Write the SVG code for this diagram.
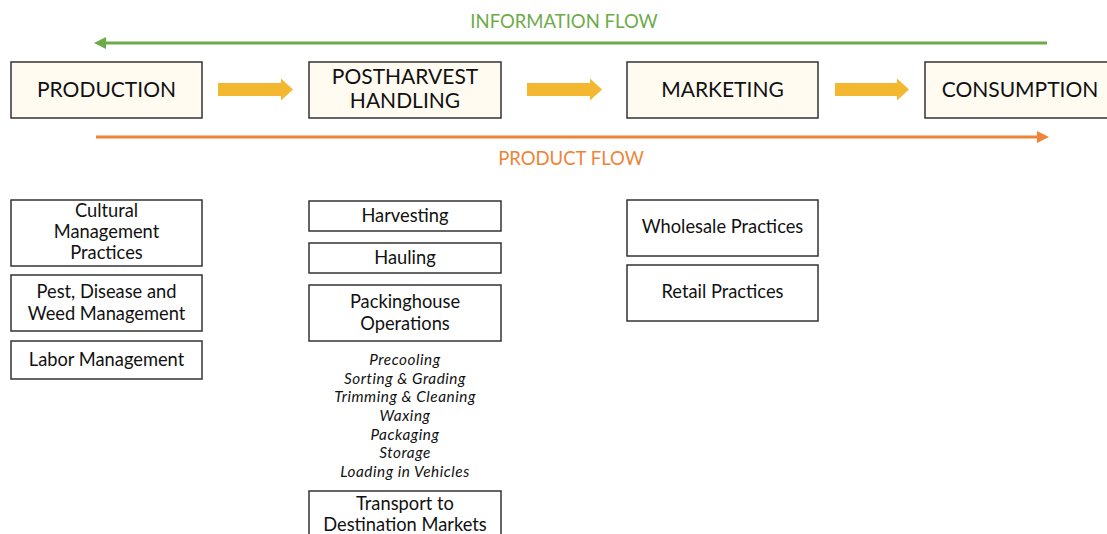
<svg xmlns="http://www.w3.org/2000/svg" width="1107" height="534" viewBox="0 0 1107 534">
<defs>
<style>
.main{fill:#FFFBF1;stroke:#333;stroke-width:1.5}
.sub{fill:#fff;stroke:#333;stroke-width:1.5}
text{font-family:Lato,"Noto Sans","Liberation Sans",sans-serif;fill:#111;text-anchor:middle}
.t1{font-size:21px}
.t2{font-size:18.3px}
.it{font-size:15.3px;font-style:italic;letter-spacing:0.55px}
.ya{fill:#F4B830}
</style>
<marker id="gh" viewBox="0 0 10 10" refX="0" refY="5" markerWidth="4" markerHeight="4" orient="auto-start-reverse" markerUnits="strokeWidth"><path d="M0,0 L10,5 L0,10 z" fill="#6DAA4A"/></marker>
<marker id="oh" viewBox="0 0 10 10" refX="0" refY="5" markerWidth="4" markerHeight="4" orient="auto" markerUnits="strokeWidth"><path d="M0,0 L10,5 L0,10 z" fill="#EE8437"/></marker>
</defs>
<g id="connectors">
<line x1="1047" y1="43" x2="106" y2="43" stroke="#6DAA4A" stroke-width="3" marker-end="url(#gh)"/>
<line x1="96" y1="137" x2="1037" y2="137" stroke="#EE8437" stroke-width="3" marker-end="url(#oh)"/>
<path class="ya" d="M218,83 L281,83 L281,78.5 L293,89.5 L281,100.5 L281,96 L218,96 z"/>
<path class="ya" d="M527,83 L590,83 L590,78.5 L602,89.5 L590,100.5 L590,96 L527,96 z"/>
<path class="ya" d="M835,83 L897,83 L897,78.5 L909,89.5 L897,100.5 L897,96 L835,96 z"/>
</g>
<text x="564" y="28" style="font-size:18.5px;fill:#6DAA4A">INFORMATION FLOW</text>
<text x="571" y="165" style="font-size:18.5px;fill:#EE8437">PRODUCT FLOW</text>
<g id="production"><rect class="main" x="11" y="62" width="191" height="56"/><text class="t1" x="106.5" y="97">PRODUCTION</text></g>
<g id="postharvest"><rect class="main" x="309" y="62" width="192" height="56"/><text class="t1" x="405" y="84">POSTHARVEST</text><text class="t1" x="405" y="108">HANDLING</text></g>
<g id="marketing"><rect class="main" x="627" y="62" width="191" height="56"/><text class="t1" x="722.5" y="97">MARKETING</text></g>
<g id="consumption"><rect class="main" x="925" y="62" width="190" height="56"/><text class="t1" x="1020" y="97">CONSUMPTION</text></g>
<g id="cultural"><rect class="sub" x="11" y="200" width="191" height="66"/><text class="t2" x="106.5" y="217">Cultural</text><text class="t2" x="106.5" y="238">Management</text><text class="t2" x="106.5" y="259">Practices</text></g>
<g id="pest"><rect class="sub" x="11" y="275" width="191" height="56"/><text class="t2" x="106.5" y="298">Pest, Disease and</text><text class="t2" x="106.5" y="320">Weed Management</text></g>
<g id="labor"><rect class="sub" x="11" y="341" width="191" height="38"/><text class="t2" x="106.5" y="366">Labor Management</text></g>
<g id="harvesting"><rect class="sub" x="309" y="201" width="192" height="30"/><text class="t2" x="405" y="222">Harvesting</text></g>
<g id="hauling"><rect class="sub" x="309" y="243" width="192" height="30"/><text class="t2" x="405" y="264">Hauling</text></g>
<g id="packinghouse"><rect class="sub" x="309" y="285" width="192" height="56"/><text class="t2" x="405" y="308">Packinghouse</text><text class="t2" x="405" y="330">Operations</text>
<text class="it" x="405" y="365">Precooling</text>
<text class="it" x="405" y="384">Sorting &amp; Grading</text>
<text class="it" x="405" y="402">Trimming &amp; Cleaning</text>
<text class="it" x="405" y="421">Waxing</text>
<text class="it" x="405" y="440">Packaging</text>
<text class="it" x="405" y="458">Storage</text>
<text class="it" x="405" y="477">Loading in Vehicles</text></g>
<g id="transport"><rect class="sub" x="309" y="491" width="192" height="56"/><text class="t2" x="405" y="510">Transport to</text><text class="t2" x="405" y="531">Destination Markets</text></g>
<g id="wholesale"><rect class="sub" x="627" y="200" width="191" height="56"/><text class="t2" x="722.5" y="233">Wholesale Practices</text></g>
<g id="retail"><rect class="sub" x="627" y="265" width="191" height="56"/><text class="t2" x="722.5" y="298">Retail Practices</text></g>
</svg>
